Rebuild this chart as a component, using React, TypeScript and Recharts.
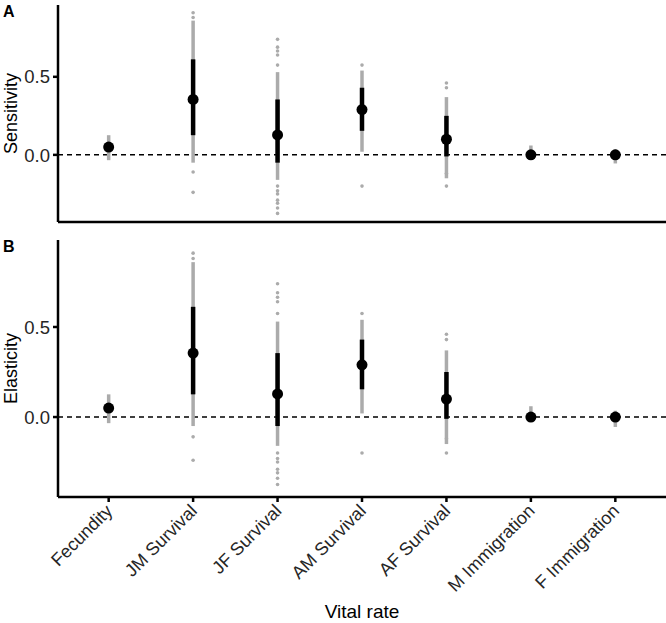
import { ComposedChart, ErrorBar, ReferenceLine, Scatter, XAxis, YAxis } from "recharts";

const vitalRates = [
  "Fecundity",
  "JM Survival",
  "JF Survival",
  "AM Survival",
  "AF Survival",
  "M Immigration",
  "F Immigration",
];

// posterior medians, 50% interval, bulk of the draws
const medianEst = [0.05, 0.355, 0.128, 0.29, 0.1, 0.0, 0.0];
const ciLow = [0.03, 0.126, -0.05, 0.154, -0.01, -0.005, -0.005];
const ciHigh = [0.075, 0.612, 0.355, 0.43, 0.25, 0.008, 0.008];
const bulkLow = [-0.034, -0.05, -0.16, 0.02, -0.15, -0.02, -0.055];
const bulkHigh = [0.126, 0.86, 0.53, 0.54, 0.37, 0.06, 0.035];

// stray draws outside the bulk
const strays: number[][] = [
  [],
  [0.91, 0.88, -0.11, -0.24],
  [0.74, 0.69, 0.665, 0.64, 0.575, -0.2, -0.23, -0.25, -0.29, -0.31, -0.34, -0.375],
  [0.575, -0.2],
  [0.46, 0.43, -0.12, -0.2],
  [],
  [],
];

const yTicks = [0, 0.5];
const posTicks = vitalRates.map((_, i) => i);

const rows = vitalRates.map((name, i) => ({
  pos: i,
  name,
  median: medianEst[i],
  ci: [medianEst[i] - ciLow[i], ciHigh[i] - medianEst[i]],
  bulk: [medianEst[i] - bulkLow[i], bulkHigh[i] - medianEst[i]],
}));

const strayPoints = strays.flatMap((vals, i) => vals.map((v) => ({ pos: i, v })));

const FONT = "'Liberation Sans', Arial, sans-serif";
const GREY = "#ababab";
const TEXT = "#262626";

const AngledTick = (props: any) => {
  const { x, y, payload } = props;
  const tx = x + 5;
  const ty = y + 8;
  return (
    <text
      x={tx}
      y={ty}
      transform={`rotate(-45 ${tx} ${ty})`}
      textAnchor="end"
      fontSize={18}
      fontFamily={FONT}
      fill={TEXT}
    >
      {vitalRates[payload.value]}
    </text>
  );
};

const ValueTick = (props: any) => {
  const { x, y, payload } = props;
  return (
    <text x={x} y={y} dy="0.36em" textAnchor="end" fontSize={18.5} fontFamily={FONT} fill={TEXT}>
      {payload.value.toFixed(1)}
    </text>
  );
};

const yTitle = (text: string) => (props: any) => {
  const vb = props.viewBox;
  const cx = vb.x + 17;
  const cy = vb.y + vb.height / 2;
  return (
    <text
      x={cx}
      y={cy}
      transform={`rotate(-90 ${cx} ${cy})`}
      textAnchor="middle"
      fontSize={18}
      fontFamily={FONT}
      fill="#000"
    >
      {text}
    </text>
  );
};

const xTitle = (props: any) => {
  const vb = props.viewBox;
  return (
    <text
      x={vb.x + vb.width / 2}
      y={vb.y + vb.height - 5}
      textAnchor="middle"
      fontSize={19}
      fontFamily={FONT}
      fill="#000"
    >
      Vital rate
    </text>
  );
};

type PanelProps = {
  title: string;
  letter: string;
  top: number;
  height: number;
  marginTop: number;
  xHeight: number;
  domain: [number, number];
  showNames: boolean;
};

const Panel = ({ title, letter, top, height, marginTop, xHeight, domain, showNames }: PanelProps) => (
  <div style={{ position: "absolute", left: 0, top, width: 666, height }}>
    <ComposedChart
      width={666}
      height={height}
      data={rows}
      margin={{ top: marginTop, right: 0, bottom: 0, left: 0 }}
    >
      <XAxis
        type="number"
        dataKey="pos"
        domain={[-0.6, 6.6]}
        ticks={posTicks}
        height={xHeight}
        axisLine={{ stroke: "#000", strokeWidth: 2.5 }}
        tickLine={{ stroke: "#000", strokeWidth: 2.5 }}
        tickSize={5}
        tickMargin={2}
        interval={0}
        tick={showNames ? <AngledTick /> : false}
        label={showNames ? { content: xTitle } : undefined}
      />
      <YAxis
        type="number"
        domain={domain}
        allowDataOverflow
        ticks={yTicks}
        width={58}
        axisLine={{ stroke: "#000", strokeWidth: 2.5 }}
        tickLine={{ stroke: "#000", strokeWidth: 2.5 }}
        tickSize={5}
        tickMargin={3}
        tick={<ValueTick />}
        label={{ content: yTitle(title) }}
      />
      <ReferenceLine y={0} stroke="#000" strokeWidth={1.5} strokeDasharray="5 4" />
      <Scatter
        data={strayPoints}
        dataKey="v"
        isAnimationActive={false}
        shape={(p: any) => <circle cx={p.cx} cy={p.cy} r={1.8} fill={GREY} />}
      />
      <Scatter
        data={rows}
        dataKey="median"
        isAnimationActive={false}
        shape={(p: any) => <circle cx={p.cx} cy={p.cy} r={5.5} fill="#000" />}
      >
        <ErrorBar
          dataKey="bulk"
          direction="y"
          width={0}
          stroke={GREY}
          strokeWidth={3.5}
          isAnimationActive={false}
        />
        <ErrorBar
          dataKey="ci"
          direction="y"
          width={0}
          stroke="#000"
          strokeWidth={4.5}
          isAnimationActive={false}
        />
      </Scatter>
    </ComposedChart>
    <div
      style={{
        position: "absolute",
        left: 3,
        top: marginTop - 1,
        fontFamily: FONT,
        fontWeight: "bold",
        fontSize: 16,
        lineHeight: "16px",
        color: "#000",
      }}
    >
      {letter}
    </div>
  </div>
);

export default function App() {
  return (
    <div style={{ position: "absolute", left: 0, top: 0, width: 666, height: 623, background: "#fff" }}>
      <Panel
        title="Sensitivity"
        letter="A"
        top={0}
        height={232}
        marginTop={5}
        xHeight={10}
        domain={[-0.43, 0.96]}
        showNames={false}
      />
      <Panel
        title="Elasticity"
        letter="B"
        top={232}
        height={391}
        marginTop={8}
        xHeight={126}
        domain={[-0.444, 0.983]}
        showNames
      />
    </div>
  );
}
